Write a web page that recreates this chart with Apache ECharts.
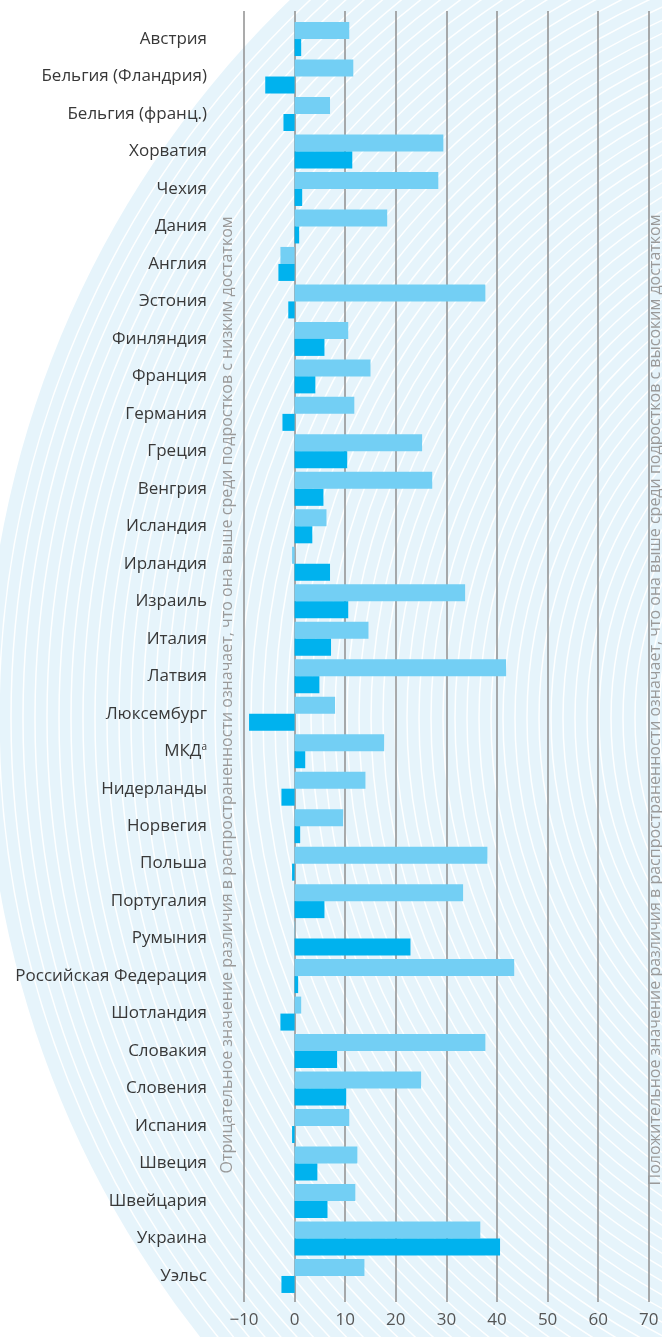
<!DOCTYPE html>
<html><head><meta charset="utf-8">
<script src="https://cdn.jsdelivr.net/npm/echarts@6/dist/echarts.min.js"></script>
<style>html,body{margin:0;padding:0;background:#fff}#c{width:662px;height:1337px}</style>
</head><body><div id="c"></div>
<script>
const categories = ['Австрия','Бельгия (Фландрия)','Бельгия (франц.)','Хорватия','Чехия','Дания','Англия','Эстония','Финляндия','Франция','Германия','Греция','Венгрия','Исландия','Ирландия','Израиль','Италия','Латвия','Люксембург','МКДа','Нидерланды','Норвегия','Польша','Португалия','Румыния','Российская Федерация','Шотландия','Словакия','Словения','Испания','Швеция','Швейцария','Украина','Уэльс'];
const seriesLight = [10.8,11.6,7.0,29.4,28.4,18.3,-2.8,37.7,10.6,15.0,11.8,25.2,27.2,6.3,-0.5,33.7,14.6,41.8,8.0,17.7,14.0,9.6,38.1,33.3,0.1,43.4,1.3,37.7,25.0,10.8,12.4,12.0,36.7,13.8];
const seriesDark = [1.3,-5.8,-2.2,11.4,1.5,0.9,-3.2,-1.25,5.9,4.1,-2.4,10.4,5.7,3.5,7.0,10.6,7.2,4.9,-9.0,2.1,-2.6,1.1,-0.5,5.9,22.9,0.7,-2.8,8.4,10.2,-0.5,4.5,6.5,40.6,-2.6];
const xTicks = {min: -10, max: 70, interval: 10};
const leftTitle = 'Отрицательное значение различия в распространенности означает, что она выше среди подростков с низким достатком';
const rightTitle = 'Положительное значение различия в распространенности означает, что она выше среди подростков с высоким достатком';

const FONT = '"Open Sans", "Noto Sans", sans-serif';
const chart = echarts.init(document.getElementById('c'), null, {renderer: 'canvas'});

// decorative background: concentric circles
const CX = 983, CY = 718, R = 998;
const bg = [];
bg.push({type: 'circle', z: -20, silent: true, shape: {cx: CX, cy: CY, r: R}, style: {fill: '#E6F4FB'}});
for (let r = 300; r < R - 8; r += 12) {
  bg.push({type: 'circle', z: -18, silent: true, shape: {cx: CX, cy: CY, r: r}, style: {fill: null, stroke: '#ffffff', lineWidth: 1.5, opacity: 0.95}});
}
bg.push({type: 'text', z: 10, x: 227, y: 695, rotation: Math.PI / 2, silent: true,
  style: {text: leftTitle, fill: '#9a9a9a', font: '16px ' + FONT, align: 'center', verticalAlign: 'middle'}});
bg.push({type: 'text', z: 10, x: 655, y: 700, rotation: Math.PI / 2, silent: true,
  style: {text: rightTitle, fill: '#9a9a9a', font: '16px ' + FONT, align: 'center', verticalAlign: 'middle'}});

const GL = 244, GW = 404.8;
const option = {
  animation: false,
  textStyle: {fontFamily: FONT},
  graphic: bg,
  grid: [
    {left: GL, width: GW, top: 11, height: 1291, containLabel: false},
    {left: GL, width: GW, top: 20.3, height: 1274.4, containLabel: false}
  ],
  xAxis: [
    {gridIndex: 0, type: 'value', min: xTicks.min, max: xTicks.max, interval: xTicks.interval, position: 'bottom',
      axisLine: {show: false}, axisTick: {show: false},
      splitLine: {show: true, lineStyle: {color: '#8f8f8f', width: 1.5}},
      axisLabel: {color: '#555', fontSize: 17, margin: 10, fontFamily: FONT,
        formatter: v => v < 0 ? '\u2212' + Math.abs(v) : String(v)}},
    {gridIndex: 1, type: 'value', min: xTicks.min, max: xTicks.max, interval: xTicks.interval, show: false}
  ],
  yAxis: [
    {gridIndex: 0, type: 'value', show: false},
    {gridIndex: 1, type: 'category', inverse: true, data: categories,
      axisLine: {show: false}, axisTick: {show: false}, splitLine: {show: false},
      axisLabel: {color: '#383838', fontSize: 17, margin: 37, fontFamily: FONT,
        formatter: v => v === 'МКДа' ? 'МКД{sup|а}' : v,
        rich: {sup: {fontSize: 10, color: '#383838', verticalAlign: 'top', padding: [0, 0, 8, 0], fontFamily: FONT}}}}
  ],
  series: [
    {type: 'bar', name: 'light', xAxisIndex: 1, yAxisIndex: 1, data: seriesLight, barWidth: 17, barGap: '0%',
      itemStyle: {color: '#73CFF4'}},
    {type: 'bar', name: 'dark', xAxisIndex: 1, yAxisIndex: 1, data: seriesDark, barWidth: 17, barGap: '0%',
      itemStyle: {color: '#00B2EE'}}
  ]
};
chart.setOption(option);
</script></body></html>
